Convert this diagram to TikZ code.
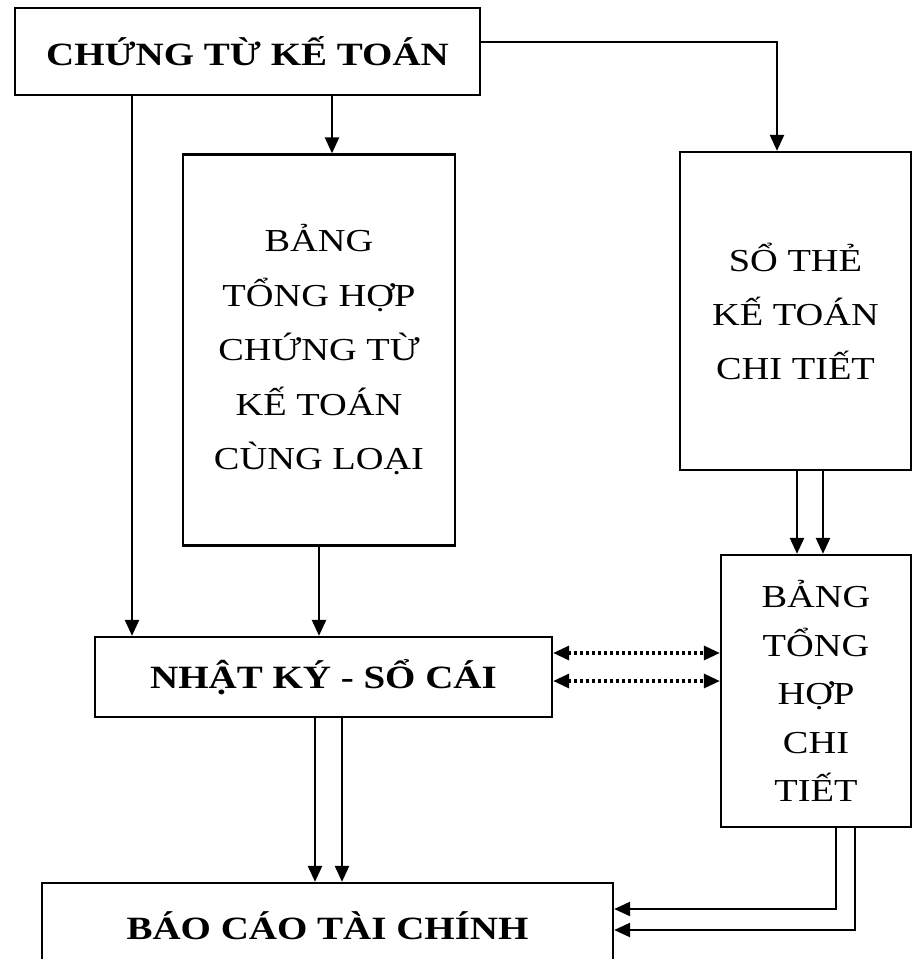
\documentclass[tikz,border=0pt]{standalone}
\usepackage{fontspec}
\setmainfont{Liberation Serif}[FakeStretch=1.2]
\usetikzlibrary{arrows.meta}
\begin{document}
\begin{tikzpicture}[x=1pt,y=-1pt,
  box/.style={draw, line width=2.3pt, inner sep=0pt, align=center},
  bigbold/.style={font=\bfseries\fontsize{32.5}{40}\selectfont},
  arr/.style={line width=2.4pt, -{Triangle[length=16pt,width=14pt]}},
  dotarr/.style={line width=3.2pt, dash pattern=on 3pt off 3pt,
    {Triangle[length=16pt,width=14pt]}-{Triangle[length=16pt,width=14pt]}},
]
\useasboundingbox (0,0) rectangle (913,959);
\clip (0,0) rectangle (913,959);
\fill[white] (0,0) rectangle (913,959);

% boxes
\node[box, bigbold, minimum width=465pt, minimum height=87pt] (ct) at (247.5,51.5) {CHỨNG TỪ KẾ TOÁN};
\node[box, minimum width=272pt, minimum height=391pt, font=\fontsize{32}{54.5}\selectfont] (bh) at (319,350)
  {BẢNG\\TỔNG HỢP\\CHỨNG TỪ\\KẾ TOÁN\\CÙNG LOẠI};
\node[box, minimum width=231pt, minimum height=318pt, font=\fontsize{32}{54}\selectfont] (so) at (795.5,311)
  {SỔ THẺ\\KẾ TOÁN\\CHI TIẾT};
\node[box, minimum width=190pt, minimum height=272pt, font=\fontsize{32}{48.5}\selectfont] (bt) at (816,691)
  {BẢNG\\TỔNG\\HỢP\\CHI\\TIẾT};
\node[box, bigbold, minimum width=457pt, minimum height=80pt] (nk) at (323.5,677) {NHẬT KÝ - SỔ CÁI};
\node[box, bigbold, minimum width=571pt, minimum height=86pt] (bc) at (327.5,926) {BÁO CÁO TÀI CHÍNH};

% helper coordinates
\coordinate (xa) at (132,0);
\coordinate (xb) at (332,0);
\coordinate (xc) at (777,0);
\coordinate (xd) at (319,0);
\coordinate (xe) at (797,0);
\coordinate (xf) at (823,0);
\coordinate (xg) at (315,0);
\coordinate (xh) at (342,0);
\coordinate (xi) at (836,0);
\coordinate (xj) at (855,0);
\coordinate (ya) at (0,42);
\coordinate (yb) at (0,653);
\coordinate (yc) at (0,681);
\coordinate (yd) at (0,909);
\coordinate (ye) at (0,930);

% connectors
\draw[arr] (ct.south -| xa) -- (nk.north -| xa);
\draw[arr] (ct.south -| xb) -- (bh.north -| xb);
\draw[arr] (ct.east |- ya) -| (so.north -| xc);
\draw[arr] (bh.south -| xd) -- (nk.north -| xd);
\draw[arr] (so.south -| xe) -- (bt.north -| xe);
\draw[arr] (so.south -| xf) -- (bt.north -| xf);
\draw[dotarr] (nk.east |- yb) -- (bt.west |- yb);
\draw[dotarr] (nk.east |- yc) -- (bt.west |- yc);
\draw[arr] (nk.south -| xg) -- (bc.north -| xg);
\draw[arr] (nk.south -| xh) -- (bc.north -| xh);
\draw[arr] (bt.south -| xi) |- (bc.east |- yd);
\draw[arr] (bt.south -| xj) |- (bc.east |- ye);
\end{tikzpicture}
\end{document}
